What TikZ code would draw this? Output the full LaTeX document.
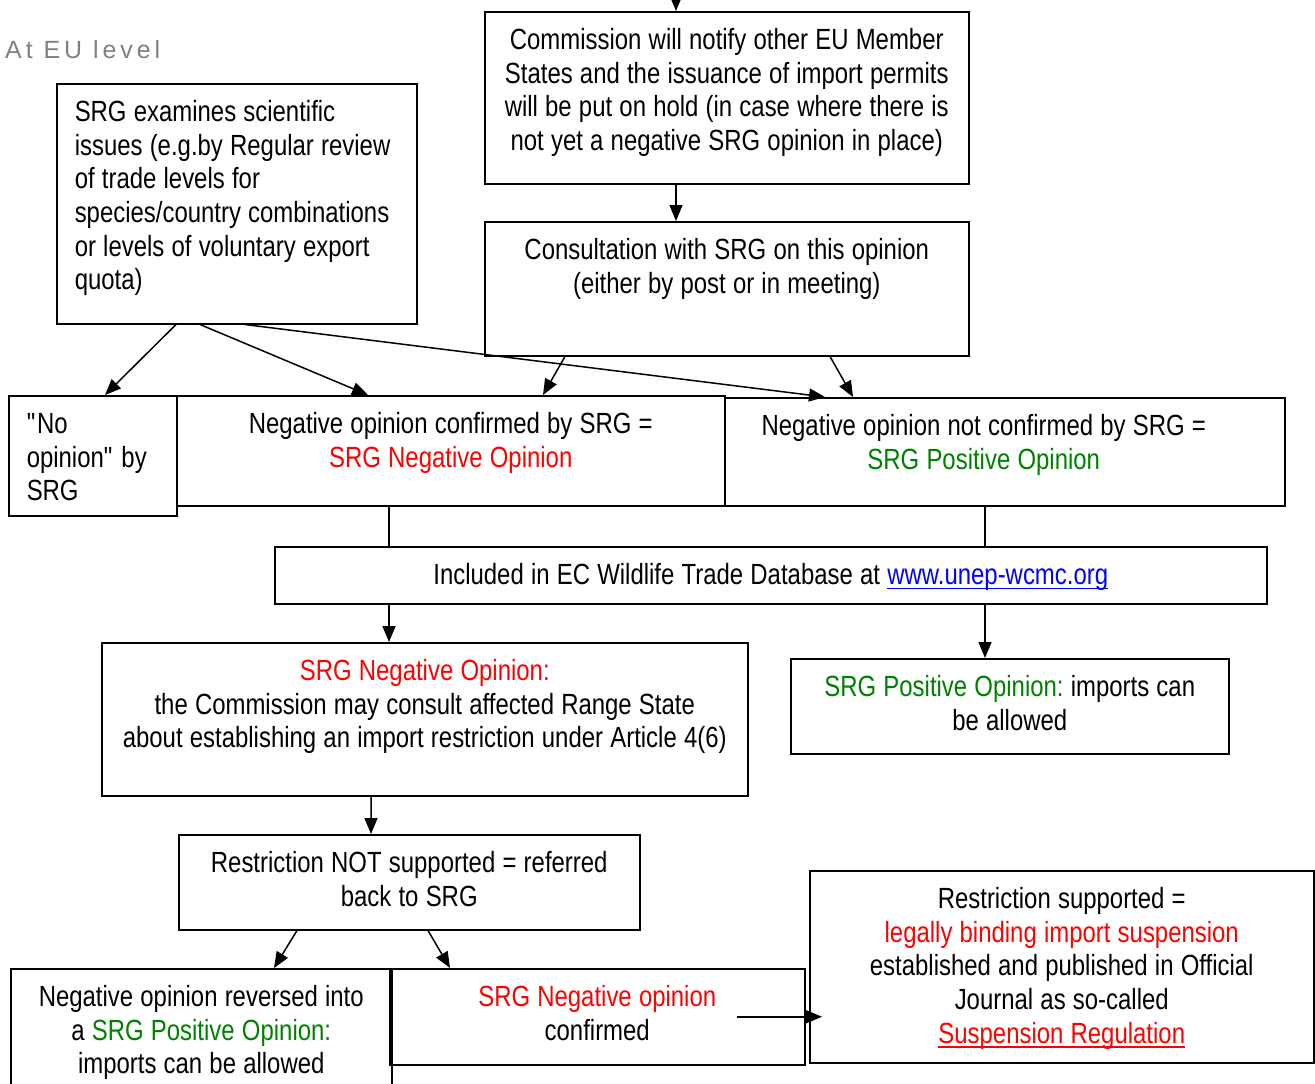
\documentclass[tikz,border=0pt]{standalone}
\usepackage{fontspec}
\setmainfont{Liberation Sans}[FakeStretch=0.82]
\newfontfamily\levelfont{Liberation Sans}[LetterSpace=16]
\usetikzlibrary{arrows.meta}
\definecolor{srgred}{RGB}{255,0,0}
\definecolor{srggreen}{RGB}{0,128,0}
\definecolor{linkblue}{RGB}{0,0,255}
\definecolor{levelgray}{RGB}{128,128,128}
\tikzstyle{bx}=[draw, line width=1.5bp, anchor=north west, inner sep=0, align=center, text height=38bp, font=\fontsize{29.3}{33.7}\selectfont, execute at begin node={\frenchspacing\spaceskip=7.2bp\relax}]
\tikzstyle{lbx}=[bx, align=left, inner xsep=18bp]
\tikzstyle{arr}=[line width=1.5bp, -{Triangle[length=16bp, width=13bp]}]
\newcommand{\undl}[1]{\setbox0\hbox{#1}\rlap{\rule[-4.5bp]{\wd0}{1.6bp}}\box0}

\begin{document}
\begin{tikzpicture}[x=1bp, y=-1bp]
\useasboundingbox (0,0) rectangle (1315,1083);
\clip (0,0) rectangle (1315,1083);
\node at (5,58)[anchor=base west, inner sep=0, text=levelgray, font=\levelfont\fontsize{25}{29}\selectfont](level){At EU level};
% boxes
\node at (484,11)[bx, text width=484bp, text depth=134bp](notify){Commission will notify other EU Member\\States and the issuance of import permits\\will be put on hold (in case where there is\\not yet a negative SRG opinion in place)};
\node at (484,221)[bx, text width=484bp, text depth=96bp](consult){Consultation with SRG on this opinion\\(either by post or in meeting)};
\node at (56,83)[lbx, text width=324bp, text depth=202bp](srg){SRG examines scientific\\issues (e.g.by Regular review\\of trade levels for\\species/country combinations\\or levels of voluntary export\\quota)};
\node at (8,395)[lbx, text width=132bp, text depth=82bp](noop){\textquotedbl No\\opinion\textquotedbl\ by\\SRG};
\node at (176,395)[bx, text width=548bp, text depth=72bp](negconf){Negative opinion confirmed by SRG =\\\textcolor{srgred}{SRG Negative Opinion}};
\node at (724,397)[bx, text width=560bp, text depth=70bp](posop){Negative opinion not confirmed by SRG =\kern42bp\\\textcolor{srggreen}{SRG Positive Opinion}\kern42bp};
\node at (274,546)[bx, text width=992bp, text depth=19bp](db){Included in EC Wildlife Trade Database at \textcolor{linkblue}{\undl{www.unep-wcmc.org}}};
\node at (101,642)[bx, text width=646bp, text depth=115bp](negop){\textcolor{srgred}{SRG Negative Opinion:}\\the Commission may consult affected Range State\\about establishing an import restriction under Article 4(6)};
\node at (790,658)[bx, text width=438bp, text depth=57bp](posfinal){\textcolor{srggreen}{SRG Positive Opinion:} imports can\\be allowed};
\node at (178,834)[bx, text width=461bp, text depth=57bp](notsup){Restriction NOT supported = referred\\back to SRG};
\node at (10,968)[bx, text width=381bp, text depth=102bp](reversed){Negative opinion reversed into\\a \textcolor{srggreen}{SRG Positive Opinion:}\\imports can be allowed};
\node at (389,968)[bx, text width=415bp, text depth=58bp](negconf2){\textcolor{srgred}{SRG Negative opinion}\\confirmed};
\node at (809,870)[bx, text width=504bp, text depth=154bp](supported){Restriction supported =\\\textcolor{srgred}{legally binding import suspension}\\established and published in Official\\Journal as so-called\\\textcolor{srgred}{\undl{Suspension Regulation}}};
% connectors
\coordinate (entry) at (676,-10);
\draw[arr] (entry) -- (entry |- notify.north);
\draw[arr] ([xshift=192bp]notify.south west) -- ([xshift=192bp]consult.north west);
\draw[arr] ([xshift=120bp]srg.south west) -- ([xshift=97bp]noop.north west);
\draw[arr] ([xshift=144bp]srg.south west) -- ([xshift=192bp]negconf.north west);
\draw[arr] ([xshift=189bp]srg.south west) -- ([xshift=101bp]posop.north west);
\draw[arr] ([xshift=81bp]consult.south west) -- ([xshift=367bp]negconf.north west);
\draw[arr] ([xshift=346bp]consult.south west) -- ([xshift=129bp]posop.north west);
\draw[line width=1.5bp] ([xshift=213bp]negconf.south west) coordinate (negline) -- (negline |- db.north);
\draw[line width=1.5bp] ([xshift=261bp]posop.south west) coordinate (posline) -- (posline |- db.north);
\draw[arr] (negline |- db.south) -- (negline |- negop.north);
\draw[arr] (posline |- db.south) -- (posline |- posfinal.north);
\draw[arr] ([xshift=270bp]negop.south west) -- ([xshift=193bp]notsup.north west);
\draw[arr] ([xshift=119bp]notsup.south west) -- ([xshift=264bp]reversed.north west);
\draw[arr] ([xshift=250bp]notsup.south west) -- ([xshift=61bp]negconf2.north west);
\draw[arr] ([xshift=-69bp]negconf2.east) coordinate (out) -- ([xshift=13bp]out -| supported.west);
\end{tikzpicture}
\end{document}
